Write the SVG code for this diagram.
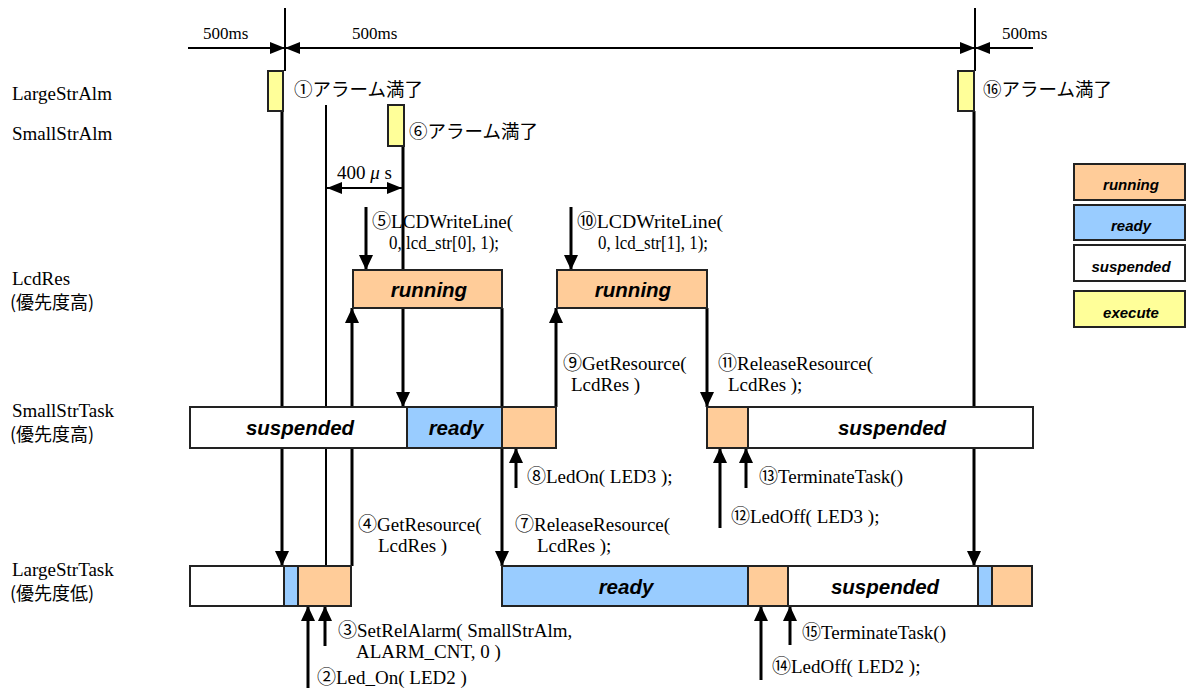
<svg xmlns="http://www.w3.org/2000/svg" width="1186" height="688" viewBox="0 0 1186 688">
<style>
.lbl{font-family:"Liberation Serif","Noto Sans CJK JP",serif;font-size:19px;fill:#000}
.row{font-family:"Liberation Serif","Noto Sans CJK JP",serif;font-size:19px;fill:#000}
.tm{font-family:"Liberation Serif","Noto Sans CJK JP",serif;font-size:17px;fill:#000}
.jp{font-family:"Noto Sans CJK JP","Liberation Sans",sans-serif;font-size:18.5px;fill:#000}
.jpr{font-family:"Noto Sans CJK JP","Liberation Sans",sans-serif;font-size:18px;fill:#000}
.st{font-family:"Liberation Sans",Arial,sans-serif;font-size:20.5px;font-weight:bold;font-style:italic;fill:#000;text-anchor:middle}
.lg{font-family:"Liberation Sans",Arial,sans-serif;font-size:15px;font-weight:bold;font-style:italic;fill:#000;text-anchor:middle}
.box{stroke:#222;stroke-width:2}
.run{fill:#FFCC99}.rdy{fill:#99CCFF}.sus{fill:#FFFFFF}.exe{fill:#FFFF99}
.ln{stroke:#000;stroke-width:3;fill:none}
.thin{stroke:#000;stroke-width:2;fill:none}
</style>
<defs>
<marker id="ah" markerUnits="userSpaceOnUse" markerWidth="15" markerHeight="14" refX="15" refY="7" orient="auto">
<path d="M0,0 L15,7 L0,14 z" fill="#000"/>
</marker>
<marker id="ahs" markerUnits="userSpaceOnUse" markerWidth="15" markerHeight="12" refX="15" refY="6" orient="auto-start-reverse">
<path d="M0,0 L15,6 L0,12 z" fill="#000"/>
</marker>
</defs>
<rect width="1186" height="688" fill="#fff"/>

<g id="connectors">
<line class="thin" x1="188" y1="48" x2="1033" y2="48"/>
<line class="thin" x1="285" y1="8" x2="285" y2="71"/>
<line class="thin" x1="975" y1="8" x2="975" y2="71"/>
<polygon points="285,48 270,42 270,54" fill="#000"/>
<polygon points="285,48 300,42 300,54" fill="#000"/>
<polygon points="975,48 960,42 960,54" fill="#000"/>
<polygon points="975,48 990,42 990,54" fill="#000"/>
<line class="ln" x1="282" y1="111" x2="282" y2="566" marker-end="url(#ah)"/>
<line class="ln" x1="974" y1="111" x2="974" y2="566" marker-end="url(#ah)"/>
<line class="thin" x1="326" y1="105" x2="326" y2="566"/>
<line class="ln" x1="403" y1="146" x2="403" y2="407" marker-end="url(#ah)"/>
<line class="thin" x1="327" y1="188" x2="402" y2="188" marker-start="url(#ahs)" marker-end="url(#ahs)"/>
<line class="ln" x1="366" y1="207" x2="366" y2="270" marker-end="url(#ah)"/>
<line class="ln" x1="571" y1="207" x2="571" y2="270" marker-end="url(#ah)"/>
<line class="ln" x1="352" y1="566" x2="352" y2="308" marker-end="url(#ah)"/>
<line class="ln" x1="502" y1="308" x2="502" y2="566" marker-end="url(#ah)"/>
<line class="ln" x1="556" y1="407" x2="556" y2="308" marker-end="url(#ah)"/>
<line class="ln" x1="707" y1="308" x2="707" y2="407" marker-end="url(#ah)"/>
<line class="ln" x1="516" y1="488" x2="516" y2="448" marker-end="url(#ah)"/>
<line class="ln" x1="720" y1="528" x2="720" y2="448" marker-end="url(#ah)"/>
<line class="ln" x1="746" y1="488" x2="746" y2="448" marker-end="url(#ah)"/>
<line class="ln" x1="308" y1="690" x2="308" y2="606" marker-end="url(#ah)"/>
<line class="ln" x1="325" y1="646" x2="325" y2="606" marker-end="url(#ah)"/>
<line class="ln" x1="761" y1="680" x2="761" y2="606" marker-end="url(#ah)"/>
<line class="ln" x1="790" y1="645" x2="790" y2="606" marker-end="url(#ah)"/>
</g>

<g id="row-labels">
<text class="row" x="12" y="100">LargeStrAlm</text>
<text class="row" x="12" y="140">SmallStrAlm</text>
<text class="row" x="12" y="285">LcdRes</text>
<text class="jpr" x="10" y="309">(優先度高)</text>
<text class="row" x="12" y="417">SmallStrTask</text>
<text class="jpr" x="10" y="441">(優先度高)</text>
<text class="row" x="12" y="576">LargeStrTask</text>
<text class="jpr" x="10" y="600">(優先度低)</text>
</g>

<g id="timing-labels">
<text class="tm" x="203" y="39">500ms</text>
<text class="tm" x="352" y="39">500ms</text>
<text class="tm" x="1002" y="39">500ms</text>
<text class="lbl" x="337" y="179">400 <tspan font-style="italic">μ</tspan> s</text>
</g>

<g id="LargeStrAlm">
<rect class="box exe" x="268" y="71" width="15" height="40"/>
<text class="jp" x="294" y="96">①アラーム満了</text>
</g>
<g id="SmallStrAlm">
<rect class="box exe" x="388" y="105" width="16" height="41"/>
<text class="jp" x="409" y="138">⑥アラーム満了</text>
</g>
<g id="LargeStrAlm-2">
<rect class="box exe" x="958" y="71" width="16" height="40"/>
<text class="jp" x="983" y="96">⑯アラーム満了</text>
</g>

<g id="LcdRes-running-1">
<rect class="box run" x="353" y="270" width="149" height="38"/>
<text class="st" x="429" y="297">running</text>
</g>
<g id="LcdRes-running-2">
<rect class="box run" x="557" y="270" width="150" height="38"/>
<text class="st" x="633" y="297">running</text>
</g>

<g id="SmallStrTask">
<rect class="box sus" x="190" y="407" width="217" height="41"/>
<text class="st" x="300" y="435">suspended</text>
<rect class="box rdy" x="407" y="407" width="95" height="41"/>
<text class="st" x="456" y="435">ready</text>
<rect class="box run" x="502" y="407" width="54" height="41"/>
<rect class="box run" x="707" y="407" width="41" height="41"/>
<rect class="box sus" x="748" y="407" width="285" height="41"/>
<text class="st" x="892" y="435">suspended</text>
</g>

<g id="LargeStrTask">
<rect class="box sus" x="190" y="566" width="94" height="40"/>
<rect class="box rdy" x="284" y="566" width="14" height="40"/>
<rect class="box run" x="298" y="566" width="53" height="40"/>
<rect class="box rdy" x="502" y="566" width="246" height="40"/>
<text class="st" x="626" y="594">ready</text>
<rect class="box run" x="748" y="566" width="40" height="40"/>
<rect class="box sus" x="788" y="566" width="190" height="40"/>
<text class="st" x="885" y="594">suspended</text>
<rect class="box rdy" x="978" y="566" width="14" height="40"/>
<rect class="box run" x="992" y="566" width="40" height="40"/>
</g>

<g id="call-labels">
<text class="lbl" x="372" y="228" textLength="141" lengthAdjust="spacingAndGlyphs">⑤LCDWriteLine(</text>
<text class="lbl" x="389" y="249" textLength="110" lengthAdjust="spacingAndGlyphs">0, lcd_str[0], 1);</text>
<text class="lbl" x="577" y="228" textLength="146" lengthAdjust="spacingAndGlyphs">⑩LCDWriteLine(</text>
<text class="lbl" x="598" y="249" textLength="110" lengthAdjust="spacingAndGlyphs">0, lcd_str[1], 1);</text>
<text class="lbl" x="563" y="370">⑨GetResource(</text>
<text class="lbl" x="571" y="391">LcdRes )</text>
<text class="lbl" x="718" y="370">⑪ReleaseResource(</text>
<text class="lbl" x="728" y="391">LcdRes );</text>
<text class="lbl" x="527" y="483">⑧LedOn( LED3 );</text>
<text class="lbl" x="759" y="483">⑬TerminateTask()</text>
<text class="lbl" x="731" y="523">⑫LedOff( LED3 );</text>
<text class="lbl" x="358" y="531">④GetResource(</text>
<text class="lbl" x="378" y="552">LcdRes )</text>
<text class="lbl" x="515" y="531">⑦ReleaseResource(</text>
<text class="lbl" x="537" y="552">LcdRes );</text>
<text class="lbl" x="338" y="637">③SetRelAlarm( SmallStrAlm,</text>
<text class="lbl" x="356" y="658">ALARM_CNT, 0 )</text>
<text class="lbl" x="317" y="684">②Led_On( LED2 )</text>
<text class="lbl" x="802" y="639">⑮TerminateTask()</text>
<text class="lbl" x="772" y="673">⑭LedOff( LED2 );</text>
</g>

<g id="legend">
<g id="legend-running"><rect class="box run" x="1074" y="164" width="111" height="36"/><text class="lg" x="1131" y="190">running</text></g>
<g id="legend-ready"><rect class="box rdy" x="1074" y="205" width="111" height="35"/><text class="lg" x="1131" y="231">ready</text></g>
<g id="legend-suspended"><rect class="box sus" x="1074" y="245" width="111" height="36"/><text class="lg" x="1131" y="272">suspended</text></g>
<g id="legend-execute"><rect class="box exe" x="1074" y="291" width="111" height="36"/><text class="lg" x="1131" y="318">execute</text></g>
</g>
</svg>
